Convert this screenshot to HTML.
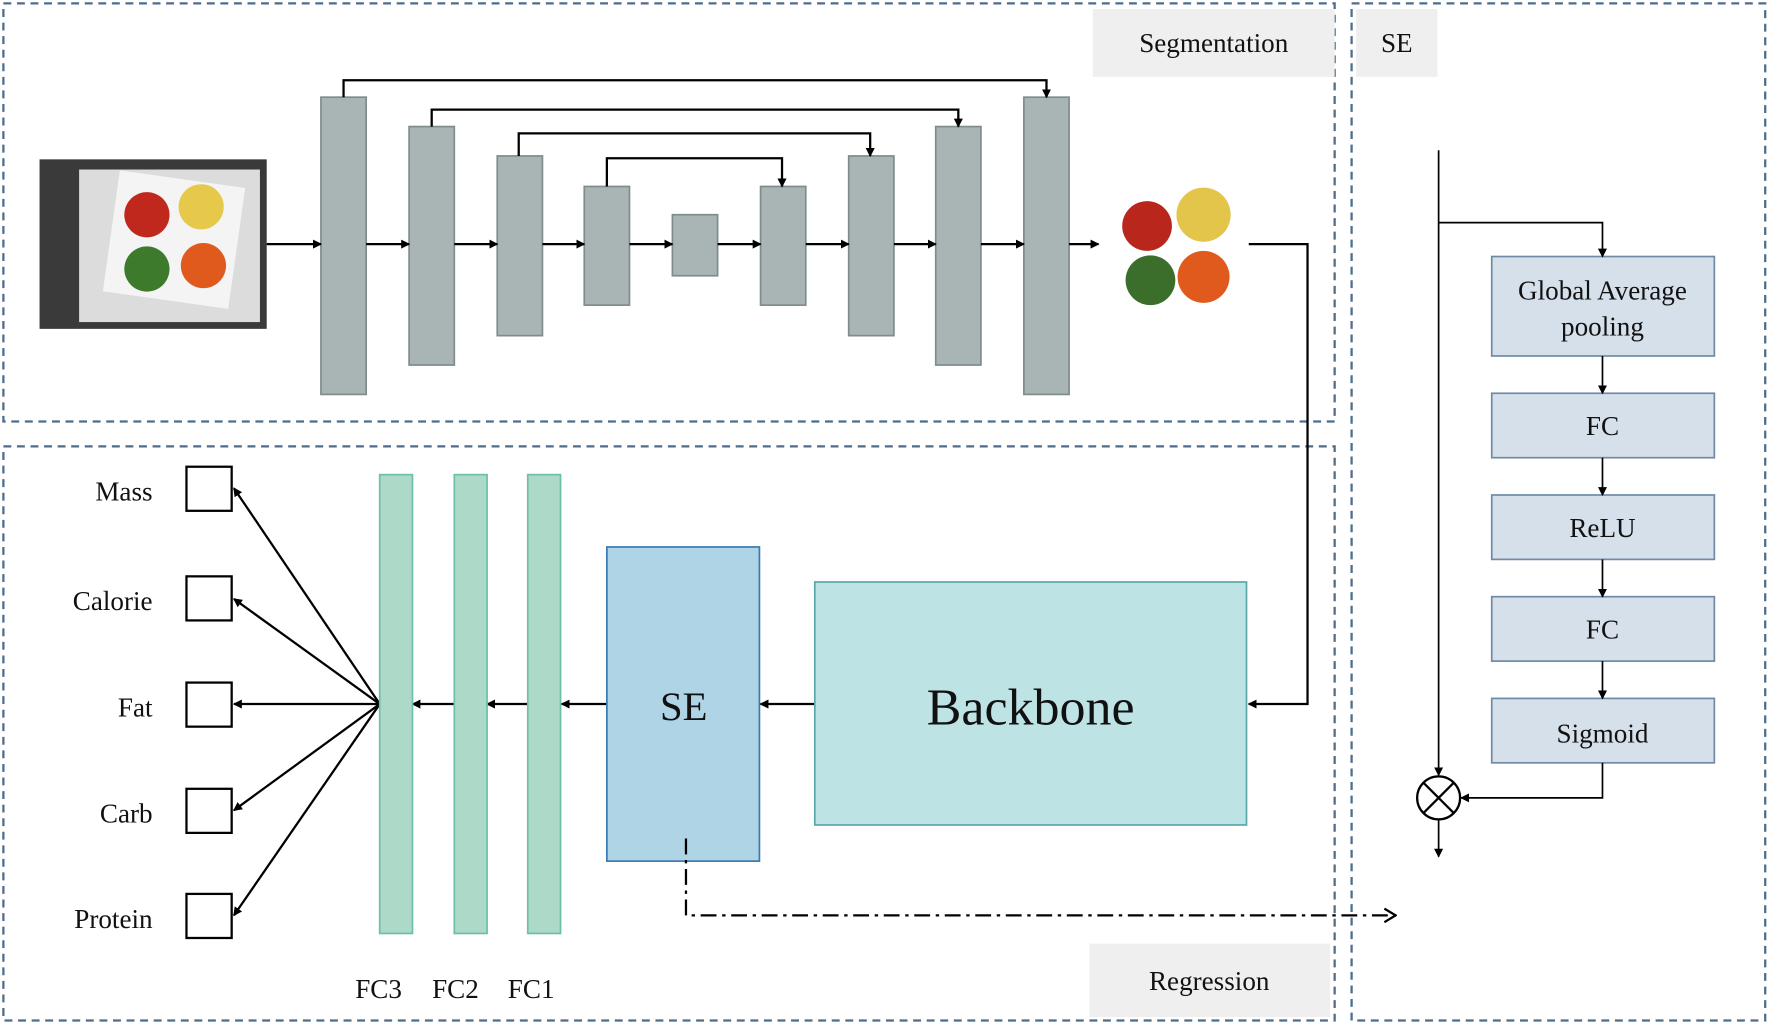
<!DOCTYPE html>
<html><head><meta charset="utf-8"><style>
html,body{margin:0;padding:0;background:#fff;}
svg{display:block;}
text{font-family:"Liberation Serif",serif;fill:#111;}
</style></head><body>
<svg width="1772" height="1025" viewBox="0 0 1568 907" preserveAspectRatio="none" xmlns="http://www.w3.org/2000/svg">
<defs>
<marker id="a" markerWidth="8" markerHeight="8" refX="7" refY="4" orient="auto" markerUnits="userSpaceOnUse"><path d="M0,0 L8,4 L0,8 Z" fill="#000"/></marker>
<marker id="o" markerWidth="12" markerHeight="14" refX="11" refY="7" orient="auto" markerUnits="userSpaceOnUse"><path d="M1,1 L11,7 L1,13" fill="none" stroke="#000" stroke-width="2"/></marker>
</defs>
<g fill="none" stroke="#4d6d8c" stroke-width="2" stroke-dasharray="7,5">
<rect x="3" y="3" width="1178" height="370"/>
<rect x="3" y="395" width="1178" height="508"/>
<rect x="1196" y="3" width="366" height="900"/>
</g>
<rect x="967" y="8" width="214" height="60" fill="#efefef"/>
<text x="1074" y="46" font-size="24" text-anchor="middle">Segmentation</text>
<rect x="1200" y="8" width="72" height="60" fill="#efefef"/>
<text x="1236" y="46" font-size="24" text-anchor="middle">SE</text>
<rect x="964" y="835" width="213" height="65" fill="#efefef"/>
<text x="1070" y="876" font-size="24" text-anchor="middle">Regression</text>

<!-- photo -->
<rect x="35" y="141" width="201" height="150" fill="#3a3a3a"/>
<rect x="70" y="150" width="160" height="135" fill="#dcdcdc"/>
<rect x="98" y="158" width="112" height="108" fill="#f4f4f4" transform="rotate(8 154 212)"/>
<circle cx="130" cy="190" r="20" fill="#c0281e"/>
<circle cx="178" cy="183" r="20" fill="#e6c84a"/>
<circle cx="130" cy="238" r="20" fill="#3e7a2c"/>
<circle cx="180" cy="235" r="20" fill="#e05a1e"/>
<!-- segmented food -->
<circle cx="1015" cy="200" r="22" fill="#b8261c"/>
<circle cx="1065" cy="190" r="24" fill="#e4c54c"/>
<circle cx="1018" cy="248" r="22" fill="#3b6e2a"/>
<circle cx="1065" cy="245" r="23" fill="#df5a1c"/>

<!-- unet bars -->
<g fill="#a9b5b5" stroke="#7f8c8c" stroke-width="1.5">
<rect x="284" y="86" width="40" height="263"/>
<rect x="362" y="112" width="40" height="211"/>
<rect x="440" y="138" width="40" height="159"/>
<rect x="517" y="165" width="40" height="105"/>
<rect x="595" y="190" width="40" height="54"/>
<rect x="673" y="165" width="40" height="105"/>
<rect x="751" y="138" width="40" height="159"/>
<rect x="828" y="112" width="40" height="211"/>
<rect x="906" y="86" width="40" height="263"/>
</g>
<g stroke="#000" stroke-width="2" fill="none" marker-end="url(#a)">
<line x1="236" y1="216" x2="284" y2="216"/>
<line x1="324" y1="216" x2="362" y2="216"/>
<line x1="402" y1="216" x2="440" y2="216"/>
<line x1="480" y1="216" x2="517" y2="216"/>
<line x1="557" y1="216" x2="595" y2="216"/>
<line x1="635" y1="216" x2="673" y2="216"/>
<line x1="713" y1="216" x2="751" y2="216"/>
<line x1="791" y1="216" x2="828" y2="216"/>
<line x1="868" y1="216" x2="906" y2="216"/>
<line x1="946" y1="216" x2="972" y2="216"/>
<polyline points="304,86 304,71 926,71 926,86"/>
<polyline points="382,112 382,97 848,97 848,112"/>
<polyline points="459,138 459,118 770,118 770,138"/>
<polyline points="537,165 537,140 692,140 692,165"/>
<polyline points="1105,216 1157,216 1157,623 1105,623"/>
<line x1="721" y1="623" x2="673" y2="623"/>
<line x1="537" y1="623" x2="497" y2="623"/>
<line x1="467" y1="623" x2="431" y2="623"/>
<line x1="402" y1="623" x2="365" y2="623"/>
<line x1="336" y1="623" x2="207" y2="432"/>
<line x1="336" y1="623" x2="207" y2="530"/>
<line x1="336" y1="623" x2="207" y2="623"/>
<line x1="336" y1="623" x2="207" y2="717"/>
<line x1="336" y1="623" x2="207" y2="810"/>
</g>
<rect x="721" y="515" width="382" height="215" fill="#bde3e5" stroke="#5aa6aa" stroke-width="1.5"/>
<text x="912" y="641" font-size="46" text-anchor="middle">Backbone</text>
<rect x="537" y="484" width="135" height="278" fill="#afd4e6" stroke="#3a7ab0" stroke-width="1.5"/>
<text x="605" y="637" font-size="36" text-anchor="middle">SE</text>
<g fill="#acd9c8" stroke="#6cbfa8" stroke-width="1.5">
<rect x="336" y="420" width="29" height="406"/>
<rect x="402" y="420" width="29" height="406"/>
<rect x="467" y="420" width="29" height="406"/>
</g>
<g fill="#fff" stroke="#000" stroke-width="2">
<rect x="165" y="413" width="40" height="39"/>
<rect x="165" y="510" width="40" height="39"/>
<rect x="165" y="604" width="40" height="39"/>
<rect x="165" y="698" width="40" height="39"/>
<rect x="165" y="791" width="40" height="39"/>
</g>
<g font-size="24" text-anchor="end">
<text x="135" y="443">Mass</text>
<text x="135" y="540">Calorie</text>
<text x="135" y="634">Fat</text>
<text x="135" y="728">Carb</text>
<text x="135" y="821">Protein</text>
</g>
<g font-size="24" text-anchor="middle">
<text x="335" y="883">FC3</text>
<text x="403" y="883">FC2</text>
<text x="470" y="883">FC1</text>
</g>
<polyline points="607,742 607,810 1235,810" fill="none" stroke="#000" stroke-width="2" stroke-dasharray="14,5,3,5" marker-end="url(#o)"/>

<!-- SE panel -->
<g fill="#d5e0ea" stroke="#6f8aa5" stroke-width="1.5">
<rect x="1320" y="227" width="197" height="88"/>
<rect x="1320" y="348" width="197" height="57"/>
<rect x="1320" y="438" width="197" height="57"/>
<rect x="1320" y="528" width="197" height="57"/>
<rect x="1320" y="618" width="197" height="57"/>
</g>
<g font-size="24" text-anchor="middle">
<text x="1418" y="265">Global Average</text>
<text x="1418" y="297">pooling</text>
<text x="1418" y="385">FC</text>
<text x="1418" y="475">ReLU</text>
<text x="1418" y="565">FC</text>
<text x="1418" y="657">Sigmoid</text>
</g>
<g stroke="#000" stroke-width="1.5" fill="none" marker-end="url(#a)">
<line x1="1273" y1="133" x2="1273" y2="686"/>
<polyline points="1273,197 1418,197 1418,227"/>
<line x1="1418" y1="315" x2="1418" y2="348"/>
<line x1="1418" y1="405" x2="1418" y2="438"/>
<line x1="1418" y1="495" x2="1418" y2="528"/>
<line x1="1418" y1="585" x2="1418" y2="618"/>
<polyline points="1418,675 1418,706 1293,706"/>
<line x1="1273" y1="725" x2="1273" y2="758"/>
</g>
<circle cx="1273" cy="706" r="19" fill="#fff" stroke="#000" stroke-width="2"/>
<line x1="1260" y1="693" x2="1286" y2="719" stroke="#000" stroke-width="2"/>
<line x1="1286" y1="693" x2="1260" y2="719" stroke="#000" stroke-width="2"/>
</svg>
</body></html>
